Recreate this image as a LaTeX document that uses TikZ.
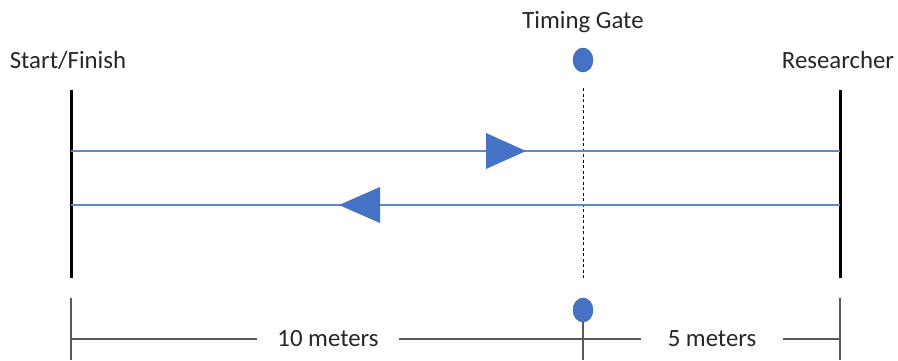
\documentclass[tikz,border=0pt]{standalone}
\usepackage{fontspec}
\setmainfont{Carlito}
\usetikzlibrary{shapes.geometric,calc}
\definecolor{gateblue}{HTML}{4472C4}
\definecolor{dimgrey}{HTML}{595959}
\definecolor{txt}{HTML}{262626}
\begin{document}
\begin{tikzpicture}[x=1pt,y=-1pt,
  lbl/.style={font=\fontsize{24.8}{28}\selectfont,text=txt,inner sep=0pt},
  endline/.style={line width=3pt,black},
  track/.style={line width=1.2pt,gateblue!85},
  dot/.style={ellipse,fill=gateblue,draw=gateblue!80!black,line width=0.4pt,minimum width=20pt,minimum height=24pt,inner sep=0pt},
  tri/.style={fill=gateblue,draw=none},
  dim/.style={line width=1.2pt,dimgrey}]
\useasboundingbox (0,0) rectangle (898,360);
% labels
\node[lbl] (sf) at (68,60) {Start/Finish};
\node[lbl] (tg) at (583,22) {Timing Gate};
\node[lbl] (rs) at (838,60) {Researcher};
% end lines
\coordinate (L1) at (71,90); \coordinate (L2) at (71,278);
\coordinate (R1) at (840,90); \coordinate (R2) at (840,278);
\draw[endline] (L1) -- (L2);
\draw[endline] (R1) -- (R2);
% gate
\node[dot] (g1) at (583,60) {};
\coordinate (D1) at (583,88); \coordinate (D2) at (583,278);
\draw[black,line width=0.9pt,dash pattern=on 3pt off 2.5pt] (D1) -- (D2);
% tracks
\coordinate (T1a) at (71,151); \coordinate (T1b) at (840,151);
\coordinate (T2a) at (71,205); \coordinate (T2b) at (840,205);
\draw[track] (T1a) -- (T1b);
\draw[track] (T2a) -- (T2b);
\fill[tri] (486,133) -- (526,151) -- (486,169) -- cycle;
\fill[tri] (380,187) -- (339,205) -- (380,223) -- cycle;
% dimensions
\coordinate (B1) at (71,298); \coordinate (B1b) at (71,360);
\coordinate (B2) at (840,298); \coordinate (B2b) at (840,360);
\draw[dim] (B1) -- (B1b);
\draw[dim] (B2) -- (B2b);
\node[lbl] (m10) at (328,339) {10 meters};
\node[lbl] (m5) at (712,339) {5 meters};
\coordinate (H1) at (71,339); \coordinate (H2) at (840,339);
\coordinate (H1e) at (257,339); \coordinate (H2s) at (399,339);
\coordinate (H2e) at (641,339); \coordinate (H3s) at (783,339);
\draw[dim] (H1) -- (H1e);
\draw[dim] (H2s) -- (H2e);
\draw[dim] (H3s) -- (H2);
\node[dot] (g2) at (583,310) {};
\coordinate (G2b) at (583,360);
\draw[dim] (g2.south) -- (G2b);
\end{tikzpicture}
\end{document}
